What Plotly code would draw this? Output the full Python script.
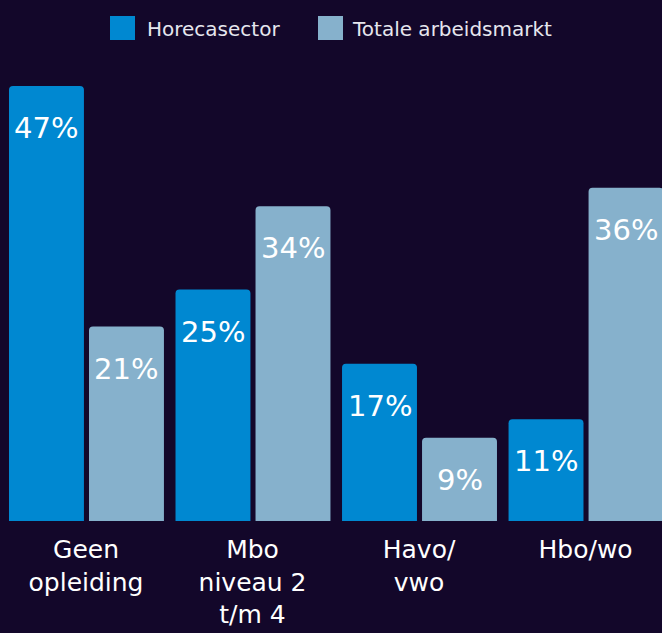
import plotly.graph_objects as go

categories = ["Geen<br>opleiding", "Mbo<br>niveau 2<br>t/m 4", "Havo/<br>vwo", "Hbo/wo"]
horeca = [47, 25, 17, 11]
totaal = [21, 34, 9, 36]
series_names = ["Horecasector", "Totale arbeidsmarkt"]
colors = ["#0088d1", "#86b1cc"]

bg = "#13072a"
x = list(range(len(categories)))
offsets = [-0.4625, 0.018]
width = 0.45

W, H = 662, 633
mt, mb = 60, 112
ph = H - mt - mb


def py(p):
    # pixel row -> paper y
    return (H - mb - p) / ph


fig = go.Figure()
for vals, name, col, off in zip([horeca, totaal], series_names, colors, offsets):
    fig.add_trace(go.Bar(
        x=x, y=vals, name=name, marker=dict(color=col, line=dict(width=0)),
        offset=off, width=width, showlegend=False, hoverinfo="skip",
    ))
    for i, v in enumerate(vals):
        fig.add_annotation(
            x=i + off + width / 2, y=v, text=f"{v}%", showarrow=False,
            yanchor="middle", yshift=-42,
            font=dict(family="DejaVu Sans", size=29, color="#ffffff"),
        )

# legend (custom, larger swatches)
legend_swatch_x = [110, 318]
legend_text_x = [145, 350]
for name, col, sx, tx in zip(series_names, colors, legend_swatch_x, legend_text_x):
    fig.add_shape(
        type="rect", xref="paper", yref="paper",
        x0=sx / W, x1=(sx + 25) / W, y0=py(40), y1=py(16),
        fillcolor=col, line=dict(width=0),
    )
    fig.add_annotation(
        xref="paper", yref="paper", x=tx / W, y=py(28.5),
        xanchor="left", yanchor="middle", showarrow=False, text=name,
        font=dict(family="DejaVu Sans", size=20, color="#e6e6ee"),
    )

fig.update_layout(
    width=W, height=H,
    paper_bgcolor=bg, plot_bgcolor=bg,
    margin=dict(l=0, r=0, t=mt, b=mb),
    barcornerradius=4,
    showlegend=False,
    font=dict(family="DejaVu Sans", color="#eeeef4"),
    xaxis=dict(
        range=[-0.5165, 3.459], tickvals=x, ticktext=categories,
        showgrid=False, zeroline=False, showline=False, ticks="",
        tickfont=dict(size=25, color="#ffffff"), ticklabelstandoff=11,
    ),
    yaxis=dict(range=[0, 49.8], visible=False, showgrid=False, zeroline=False),
)

fig.write_html(
    "out.html",
    config={"displayModeBar": False},
    post_script="document.body.style.margin='0';document.body.style.background='#13072a';",
)
